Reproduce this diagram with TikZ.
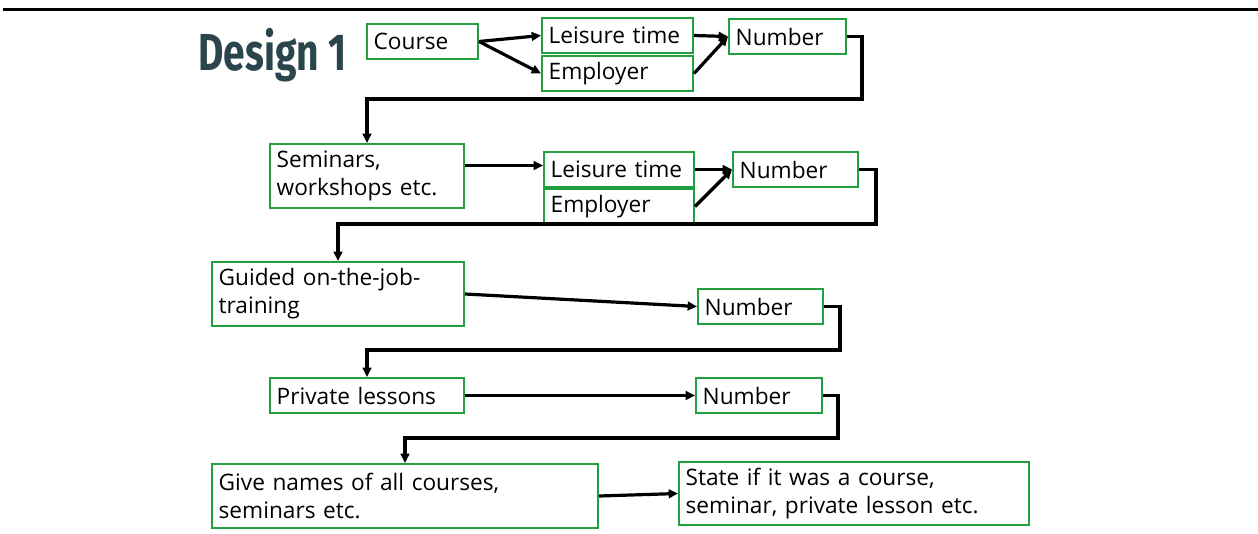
\documentclass[tikz,border=0pt]{standalone}
\usepackage{fontspec}
\setmainfont{Open Sans}
\newfontfamily\titlefont{Fira Sans}
\usepackage{tikz}
\usetikzlibrary{arrows.meta}
\definecolor{boxgreen}{RGB}{34,160,64}
\definecolor{titleslate}{RGB}{42,70,76}
\tikzset{every picture/.style={line width=0.75pt}}
\tikzset{
  ebox/.style={draw=boxgreen, line width=1.5pt, anchor=north west, inner xsep=5pt, inner ysep=2pt,
    text width=#1, minimum height=26.25pt, align=left, font=\fontsize{17}{21}\selectfont},
  link/.style={draw, line width=2.4pt, -{Triangle[length=7pt,width=6.5pt]}}
}

\begin{document}
\begin{tikzpicture}[x=0.75pt,y=0.75pt,yscale=-1]
\useasboundingbox (0,0) rectangle (1258,533);

%Straight Lines (top rule)
\draw [line width=2.25pt] (3,9) -- (1258,9) ;

% Text Node
\draw (198,55) node [anchor=west][inner sep=0pt] [text=titleslate] (title) {\titlefont\bfseries\fontsize{39}{42}\selectfont\scalebox{0.75}[1]{Design 1}};

% Boxes
\draw (366,23) node [ebox=73.25pt] (course) {Course};
\draw (541,17) node [ebox=103.25pt] (lei1) {Leisure time};
\draw (541,55) node [ebox=103.25pt] (emp1) {Employer};
\draw (728,18) node [ebox=77.75pt] (num1) {Number};

\draw (269,143) node [ebox=135.5pt, minimum height=48pt] (sem) {Seminars,\\workshops etc.};
\draw (543,151) node [ebox=102.5pt] (lei2) {Leisure time};
\draw (543,188) node [ebox=102.5pt] (emp2) {Employer};
\draw (732,151) node [ebox=83.75pt] (num2) {Number};

\draw (211,261) node [ebox=179pt, minimum height=48pt] (guid) {Guided on-the-job-\\training};
\draw (697,288) node [ebox=83.75pt] (num3) {Number};

\draw (269,377) node [ebox=135.5pt] (priv) {Private lessons};
\draw (695,377) node [ebox=84.5pt] (num4) {Number};

\draw (211,463) node [ebox=279.5pt, minimum height=48pt] (names) {Give names of all courses,\\seminars etc.};
\draw (678,461) node [ebox=252.5pt, minimum height=47.25pt] (kind) {State if it was a course,\\seminar, private lesson etc.};

% Bends
\coordinate (bend1) at (862,99);
\coordinate (bend2) at (876,224);
\coordinate (bend3) at (840,350);
\coordinate (bend4) at (838,438);

%Straight Lines
\draw [link] (course.east) -- (lei1.west) ;
\draw [link] (course.east) -- (emp1.west) ;
\draw [link] (lei1.east) -- (num1.west) ;
\draw [link] (emp1.east) -- (num1.west) ;
\draw [link] (num1.east) -| (bend1) -| (sem.north) ;

\draw [link] ([yshift=-3pt]sem.east |- lei2.west) -- ([yshift=-3pt]lei2.west) ;
\draw [link] (lei2.east) -- (num2.west) ;
\draw [link] (emp2.east) -- (num2.west) ;
\draw [link] (num2.east) -| (bend2) -| (guid.north) ;

\draw [link] (guid.east) -- (num3.west) ;
\draw [link] (num3.east) -| (bend3) -| (priv.north) ;

\draw [link] (priv.east) -- (num4.west) ;
\draw [link] (num4.east) -| (bend4) -| (names.north) ;

\draw [link] (names.east) -- (kind.west) ;

\end{tikzpicture}
\end{document}
